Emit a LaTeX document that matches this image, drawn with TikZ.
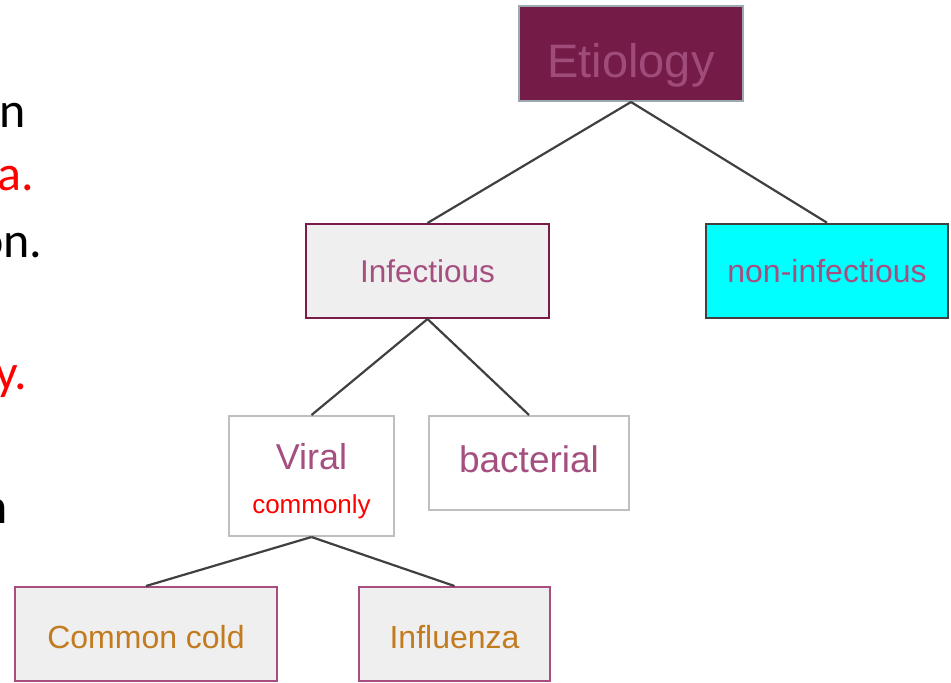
\documentclass[tikz,border=0pt]{standalone}
\usepackage{fontspec}
\setmainfont{Liberation Sans}
\newfontfamily\slidefont{Carlito}
\usetikzlibrary{positioning}
\definecolor{Wine}{HTML}{741C47}
\definecolor{WineText}{HTML}{A04C7A}
\definecolor{WineLine}{HTML}{7A1C4A}
\definecolor{Slate}{HTML}{9AAAB0}
\definecolor{PaleGray}{HTML}{EFEFEF}
\definecolor{Mauve}{HTML}{A54F80}
\definecolor{LeafLine}{HTML}{A84D7E}
\definecolor{Ochre}{HTML}{C27B1F}
\definecolor{Edge}{HTML}{404040}
\definecolor{BoxGray}{HTML}{BFBFBF}
\definecolor{Aqua}{HTML}{00FFFF}

\begin{document}
\begin{tikzpicture}[x=1pt,y=-1pt,
  box/.style={draw,inner sep=0pt,line width=2pt,align=center},
  leaf/.style={box,fill=PaleGray,draw=LeafLine,text=Ochre,minimum height=94pt,text height=29pt,text depth=0pt,font=\fontsize{32}{38}\selectfont},
  tie/.style={draw=Edge,line width=2.2pt},
  frag/.style={anchor=base east,font=\slidefont\fontsize{50}{60}\selectfont}]
\useasboundingbox (0,0) rectangle (951,683);
% cut-off slide text on the left
\node[frag] (f1) at (29,127) {n};
\node[frag,text=red] (f2) at (38,190) {a.};
\node[frag] (f3) at (46,257) {on.};
\node[frag,text=red] (f4) at (31,389) {y.};
\node[frag] (f5) at (11,523) {n};
% tree
\node[box,fill=Wine,draw=Slate,text=WineText,minimum width=224pt,minimum height=95pt,text height=47pt,text depth=0pt,font=\fontsize{47}{56}\selectfont] (etio) at (631,53.5) {Etiology};
\node[box,fill=PaleGray,draw=WineLine,text=Mauve,minimum width=243pt,minimum height=94pt,font=\fontsize{31.5}{38}\selectfont] (inf) at (427.5,271) {Infectious};
\node[box,fill=Aqua,draw=Edge,line width=2.6pt,text=Mauve,minimum width=242pt,minimum height=94pt,font=\fontsize{32}{38}\selectfont] (noninf) at (827,271) {non-infectious};
\node[box,draw=BoxGray,text=Mauve,minimum width=165pt,minimum height=120pt,text height=80pt,font=\fontsize{36}{44}\selectfont] (viral) at (311.5,476) {Viral\\{\color{red}\fontsize{26}{30}\selectfont commonly}};
\node[box,draw=BoxGray,text=Mauve,minimum width=200pt,minimum height=94pt,text height=27pt,text depth=9pt,font=\fontsize{37}{44}\selectfont] (bact) at (529,463) {bacterial};
\node[leaf,minimum width=262pt] (cold) at (146,634) {Common cold};
\node[leaf,minimum width=191pt] (flu) at (454.5,634) {Influenza};
\draw[tie] (etio.south)--(inf.north);
\draw[tie] (etio.south)--(noninf.north);
\draw[tie] (inf.south)--(viral.north);
\draw[tie] (inf.south)--(bact.north);
\draw[tie] (viral.south)--(cold.north);
\draw[tie] (viral.south)--(flu.north);
\end{tikzpicture}
\end{document}
